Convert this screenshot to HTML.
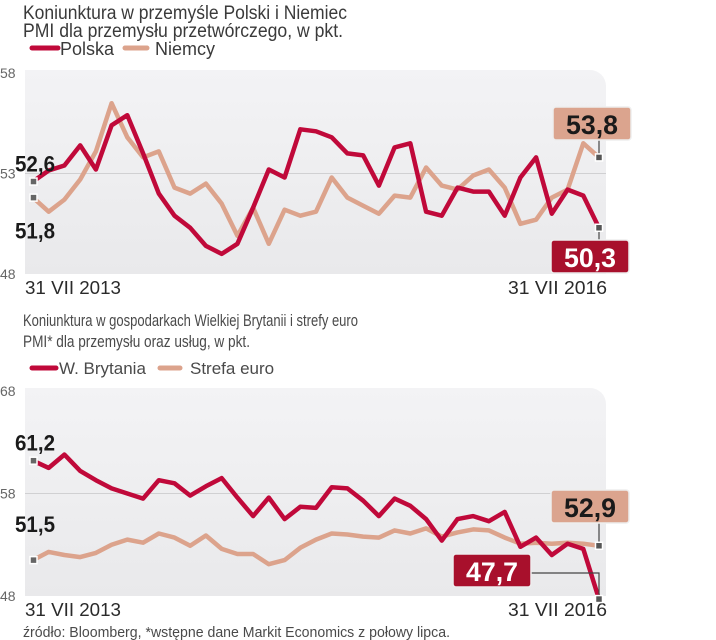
<!DOCTYPE html>
<html><head><meta charset="utf-8">
<style>
html,body{margin:0;padding:0;background:#fff;}
svg{display:block;font-family:"Liberation Sans Narrow","Liberation Sans",sans-serif;}
</style></head>
<body>
<svg id="c" width="716" height="640" viewBox="0 0 716 640" xmlns="http://www.w3.org/2000/svg">
<defs>
<linearGradient id="bg" x1="0" y1="0" x2="0" y2="1">
<stop offset="0" stop-color="#f3f3f5"/><stop offset="1" stop-color="#e9e9eb"/>
</linearGradient>
</defs>
<text x="23" y="19" font-size="19" fill="#3a3a3a" textLength="324" lengthAdjust="spacingAndGlyphs">Koniunktura w przemyśle Polski i Niemiec</text>
<text x="23" y="37" font-size="19" fill="#3a3a3a" textLength="320" lengthAdjust="spacingAndGlyphs">PMI dla przemysłu przetwórczego, w pkt.</text>
<g><line x1="32" y1="48" x2="58" y2="48" stroke="#c0093a" stroke-width="5" stroke-linecap="round"/><text x="60" y="55" font-size="18" fill="#3a3a3a">Polska</text></g>
<g><line x1="125" y1="48" x2="147" y2="48" stroke="#dca38c" stroke-width="5" stroke-linecap="round"/><text x="155" y="55" font-size="18" fill="#3a3a3a">Niemcy</text></g>

<text x="23" y="326" font-size="17" fill="#4a4a4a" textLength="335" lengthAdjust="spacingAndGlyphs">Koniunktura w gospodarkach Wielkiej Brytanii i strefy euro</text>
<text x="23" y="347" font-size="17" fill="#4a4a4a" textLength="227" lengthAdjust="spacingAndGlyphs">PMI* dla przemysłu oraz usług, w pkt.</text>
<g><line x1="32" y1="368" x2="56" y2="368" stroke="#c0093a" stroke-width="5" stroke-linecap="round"/><text x="59" y="374" font-size="17" fill="#4a4a4a">W. Brytania</text></g>
<g><line x1="160" y1="368" x2="180" y2="368" stroke="#dca38c" stroke-width="5" stroke-linecap="round"/><text x="190" y="374" font-size="17" fill="#4a4a4a">Strefa euro</text></g>

<text x="23" y="637" font-size="15" fill="#4a4a4a" textLength="427" lengthAdjust="spacingAndGlyphs">źródło: Bloomberg, *wstępne dane Markit Economics z połowy lipca.</text>
<g id="layer"></g>
</svg>
<script>
const polska=[52.6,53.15,53.4,54.4,53.2,55.4,55.9,54.0,52.0,50.9,50.3,49.4,49.0,49.5,51.3,53.2,52.8,55.2,55.1,54.8,54.0,53.9,52.4,54.3,54.5,51.1,50.9,52.3,52.1,52.1,50.9,52.8,53.8,51.0,52.2,51.9,50.3];
const niemcy=[51.8,51.1,51.7,52.7,54.1,56.5,54.8,53.8,54.1,52.3,52.0,52.5,51.5,49.9,51.3,49.5,51.2,50.9,51.1,52.8,51.8,51.4,51.0,51.9,51.8,53.3,52.4,52.2,52.9,53.2,52.3,50.5,50.7,51.8,52.2,54.5,53.8];
const uk=[61.2,60.5,61.8,60.2,59.3,58.5,58.0,57.5,59.3,59.0,57.8,58.7,59.5,57.6,55.8,57.6,55.5,56.7,56.6,58.6,58.5,57.3,55.8,57.5,56.8,55.5,53.4,55.5,55.8,55.3,56.2,52.8,53.7,52.0,53.1,52.6,47.7];
const euro=[51.5,52.3,52.0,51.8,52.2,53.0,53.5,53.2,54.1,53.7,52.9,53.9,52.6,52.1,52.1,51.1,51.5,52.7,53.5,54.1,54.0,53.8,53.7,54.4,54.1,54.6,53.8,54.2,54.5,54.4,53.7,53.1,53.2,53.1,53.2,53.1,52.9];
const ticks1=[58,53,48];
const ticks2=[68,58,48];
const dateLabels=["31 VII 2013","31 VII 2016"];

const NS="http://www.w3.org/2000/svg";
const L=document.getElementById('layer');
function mk(t,a,txt){const e=document.createElementNS(NS,t);for(const k in a)e.setAttribute(k,a[k]);if(txt!==undefined)e.textContent=txt;L.appendChild(e);return e;}
const x0=33,x1=599;
function xs(i,n){return x0+(x1-x0)*i/(n-1);}

function chart(cfg){
  const ys=v=>cfg.yTop+(cfg.max-v)/(cfg.max-cfg.min)*(cfg.yBot-cfg.yTop);
  const p=mk('path',{d:`M25,${cfg.yTop-3} H590 a16,16 0 0 1 16,16 V${cfg.yBot} H25 Z`,fill:'url(#bg)'});
  
  
  const mid=(cfg.max+cfg.min)/2;
  const g=mk('line',{x1:25,x2:606,y1:ys(mid),y2:ys(mid),stroke:'#d0d0d2','stroke-width':1});
  
  
  cfg.ticks.forEach(t=>{
    const e=mk('text',{x:0,y:ys(t)+5,'font-size':14,fill:'#666'},String(t));
    
    
  });
  const d1=mk('text',{x:25,y:cfg.yBot+20,'font-size':18,fill:'#2a2a2a',textLength:96,lengthAdjust:'spacingAndGlyphs'},dateLabels[0]);
  
  
  const d2=mk('text',{x:508,y:cfg.yBot+20,'font-size':18,fill:'#2a2a2a',textLength:99,lengthAdjust:'spacingAndGlyphs'},dateLabels[1]);
  
  
  [[cfg.b,'#dca38c',cfg.bName],[cfg.a,'#c0093a',cfg.aName]].forEach(([arr,col,nm])=>{
    const d=arr.map((v,i)=>(i?'L':'M')+xs(i,arr.length).toFixed(1)+','+ys(v).toFixed(1)).join(' ');
    const e=mk('path',{d,fill:'none',stroke:col,'stroke-width':4.5,'stroke-linejoin':'round'});
    
    
  });
  const sa=ys(cfg.a[0]),sb=ys(cfg.b[0]);
  const fmt=v=>v.toFixed(1).replace('.',',');
  const t1=mk('text',{x:15,y:Math.min(sa,sb)-10,'font-size':22,'font-weight':'bold',fill:'#1a1a1a',textLength:40,lengthAdjust:'spacingAndGlyphs'},fmt(cfg.a[0]>cfg.b[0]?cfg.a[0]:cfg.b[0]));
  
  
  const t2=mk('text',{x:15,y:Math.max(sa,sb)+cfg.lowOff,'font-size':22,'font-weight':'bold',fill:'#1a1a1a',textLength:40,lengthAdjust:'spacingAndGlyphs'},fmt(cfg.a[0]>cfg.b[0]?cfg.b[0]:cfg.a[0]));
  
  
  [sa,sb].forEach(y=>{const m=mk('rect',{x:30,y:y-3.5,width:7,height:7,fill:'#666',stroke:'#fff','stroke-width':1.5});});
  cfg.callouts.forEach(c=>{
    const arr=c.s==='a'?cfg.a:cfg.b;const v=arr[arr.length-1];const ey=ys(v);
    mk('polyline',{points:c.path(ey).join(' '),fill:'none',stroke:'#444','stroke-width':1.2});
    const r=mk('rect',{x:c.x,y:c.y,width:78,height:33,rx:3,fill:c.fill,stroke:'#eee','stroke-width':1.5});
    
    
    const t=mk('text',{x:c.x+39,y:c.y+27,'font-size':27,'font-weight':'bold','text-anchor':'middle',fill:c.tc,textLength:52,lengthAdjust:'spacingAndGlyphs'},fmt(v));
    
    
    const m=mk('rect',{x:x1-3.5,y:ey-3.5,width:7,height:7,fill:'#555',stroke:'#fff','stroke-width':1.5});
    
    
  });
}
chart({id:'chart1',a:polska,b:niemcy,aName:'polska',bName:'niemcy',max:58,min:48,yTop:73,yBot:274,ticks:ticks1,lowOff:41,
  callouts:[
   {s:'b',name:'niemcy-end',x:553,y:107,fill:'#dba48e',tc:'#1a1a1a',path:ey=>[[599,140],[599,ey]]},
   {s:'a',name:'polska-end',x:551,y:240,fill:'#a8102c',tc:'#fff',path:ey=>[[599,ey],[599,240]]}
  ]});
chart({id:'chart2',a:uk,b:euro,aName:'uk',bName:'euro',max:68,min:48,yTop:391,yBot:596,ticks:ticks2,lowOff:-28,
  callouts:[
   {s:'b',name:'euro-end',x:551,y:490,fill:'#dba48e',tc:'#1a1a1a',path:ey=>[[599,523],[599,ey]]},
   {s:'a',name:'uk-end',x:453,y:554,fill:'#a8102c',tc:'#fff',path:ey=>[[531,573],[599,573],[599,ey]]}
  ]});
</script>
</body></html>
